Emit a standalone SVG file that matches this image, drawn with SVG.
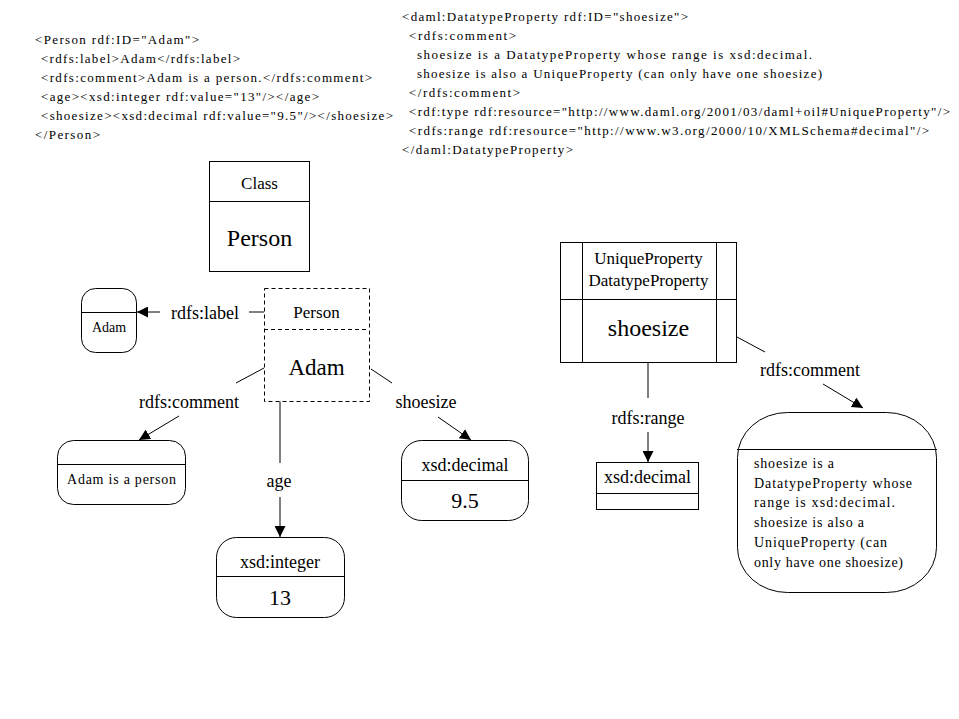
<svg xmlns="http://www.w3.org/2000/svg" width="959" height="719" viewBox="0 0 959 719">
<style>
text{font-family:"Liberation Serif",Tinos,"Times New Roman",Times,"Noto Serif","DejaVu Serif",FreeSerif,serif;fill:#000}
.code{font-size:13px}
.lbl{font-size:18px;text-anchor:middle}
.c{text-anchor:middle}
.box{fill:#fff;stroke:#000;stroke-width:1}
.ln{stroke:#000;stroke-width:1;fill:none}
.dash{stroke-dasharray:4,3}
</style>
<defs>
<marker id="ah" markerUnits="userSpaceOnUse" markerWidth="11" markerHeight="11" viewBox="0 0 11 11" refX="11" refY="5.5" orient="auto">
<path d="M0,0 L11,5.5 L0,11 z" fill="#000"/>
</marker>
</defs>
<rect width="959" height="719" fill="#fff"/>

<g id="code-person">
<text class="code" x="35" y="44" textLength="164">&lt;Person rdf:ID="Adam"&gt;</text>
<text class="code" x="41" y="63" textLength="199">&lt;rdfs:label&gt;Adam&lt;/rdfs:label&gt;</text>
<text class="code" x="41" y="82" textLength="331">&lt;rdfs:comment&gt;Adam is a person.&lt;/rdfs:comment&gt;</text>
<text class="code" x="41" y="101" textLength="278">&lt;age&gt;&lt;xsd:integer rdf:value="13"/&gt;&lt;/age&gt;</text>
<text class="code" x="41" y="120" textLength="352">&lt;shoesize&gt;&lt;xsd:decimal rdf:value="9.5"/&gt;&lt;/shoesize&gt;</text>
<text class="code" x="35" y="139" textLength="65">&lt;/Person&gt;</text>
</g>

<g id="code-shoesize">
<text class="code" x="402" y="21" textLength="286">&lt;daml:DatatypeProperty rdf:ID="shoesize"&gt;</text>
<text class="code" x="409" y="40" textLength="107">&lt;rdfs:comment&gt;</text>
<text class="code" x="417" y="59" textLength="395">shoesize is a DatatypeProperty whose range is xsd:decimal.</text>
<text class="code" x="417" y="78" textLength="405">shoesize is also a UniqueProperty (can only have one shoesize)</text>
<text class="code" x="409" y="97" textLength="111">&lt;/rdfs:comment&gt;</text>
<text class="code" x="409" y="116" textLength="541">&lt;rdf:type rdf:resource="http://www.daml.org/2001/03/daml+oil#UniqueProperty"/&gt;</text>
<text class="code" x="409" y="135" textLength="520">&lt;rdfs:range rdf:resource="http://www.w3.org/2000/10/XMLSchema#decimal"/&gt;</text>
<text class="code" x="402" y="154" textLength="171">&lt;/daml:DatatypeProperty&gt;</text>
</g>

<g id="connectors">
<line class="ln" x1="249" y1="312" x2="264" y2="312"/>
<line class="ln" x1="160" y1="312" x2="137" y2="312" marker-end="url(#ah)"/>
<line class="ln" x1="264" y1="368" x2="236" y2="383"/>
<line class="ln" x1="179" y1="416" x2="139" y2="440" marker-end="url(#ah)"/>
<line class="ln" x1="280" y1="401" x2="280" y2="463"/>
<line class="ln" x1="280" y1="497" x2="280" y2="537" marker-end="url(#ah)"/>
<line class="ln" x1="371" y1="369" x2="392" y2="383"/>
<line class="ln" x1="438" y1="417" x2="471" y2="440" marker-end="url(#ah)"/>
<line class="ln" x1="648" y1="363" x2="648" y2="398"/>
<line class="ln" x1="648" y1="432" x2="648" y2="462" marker-end="url(#ah)"/>
<line class="ln" x1="737" y1="337" x2="765" y2="352"/>
<line class="ln" x1="823" y1="384" x2="863" y2="408" marker-end="url(#ah)"/>
<text class="lbl" x="205" y="319">rdfs:label</text>
<text class="lbl" x="189" y="408">rdfs:comment</text>
<text class="lbl" x="279" y="487">age</text>
<text class="lbl" x="426" y="408">shoesize</text>
<text class="lbl" x="648" y="424">rdfs:range</text>
<text class="lbl" x="810" y="376">rdfs:comment</text>
</g>

<g id="class-person">
<rect class="box" x="209.5" y="161.5" width="100" height="110"/>
<line class="ln" x1="209" y1="201.5" x2="309" y2="201.5"/>
<text class="c" x="259.5" y="189" font-size="17">Class</text>
<text class="c" x="259.5" y="246" font-size="24">Person</text>
</g>

<g id="adam-instance">
<rect class="box dash" x="264.5" y="288.5" width="105" height="113"/>
<line class="ln dash" x1="264" y1="329.5" x2="369" y2="329.5"/>
<text class="c" x="316.5" y="318" font-size="17">Person</text>
<text class="c" x="316.5" y="375" font-size="23">Adam</text>
</g>

<g id="adam-label">
<rect class="box" x="81.5" y="288.5" width="55" height="64" rx="14"/>
<line class="ln" x1="81" y1="312.5" x2="137" y2="312.5"/>
<text class="c" x="109" y="332" font-size="14">Adam</text>
</g>

<g id="adam-comment">
<rect class="box" x="57.5" y="440.5" width="128" height="64" rx="16"/>
<line class="ln" x1="57" y1="464.5" x2="186" y2="464.5"/>
<text class="c" x="121.5" y="484" font-size="14" textLength="109">Adam is a person</text>
</g>

<g id="xsd-integer">
<rect class="box" x="216.5" y="537.5" width="128" height="80" rx="20"/>
<line class="ln" x1="216" y1="576.5" x2="345" y2="576.5"/>
<text class="c" x="280" y="568" font-size="18">xsd:integer</text>
<text class="c" x="280" y="605" font-size="22">13</text>
</g>

<g id="xsd-decimal-value">
<rect class="box" x="401.5" y="440.5" width="127" height="80" rx="20"/>
<line class="ln" x1="401" y1="480.5" x2="529" y2="480.5"/>
<text class="c" x="465" y="471" font-size="18">xsd:decimal</text>
<text class="c" x="465" y="508" font-size="22">9.5</text>
</g>

<g id="shoesize-property">
<rect class="box" x="560.5" y="242.5" width="176" height="120"/>
<line class="ln" x1="582.5" y1="242" x2="582.5" y2="363"/>
<line class="ln" x1="716.5" y1="242" x2="716.5" y2="363"/>
<line class="ln" x1="560" y1="299.5" x2="737" y2="299.5"/>
<text class="c" x="648.5" y="264" font-size="17">UniqueProperty</text>
<text class="c" x="648.5" y="286" font-size="17">DatatypeProperty</text>
<text class="c" x="648.5" y="336" font-size="24">shoesize</text>
</g>

<g id="xsd-decimal-range">
<rect class="box" x="596.5" y="462.5" width="102" height="47"/>
<line class="ln" x1="596" y1="493.5" x2="699" y2="493.5"/>
<text class="c" x="647.5" y="483" font-size="18">xsd:decimal</text>
</g>

<g id="shoesize-comment">
<rect class="box" x="737.5" y="412.5" width="199" height="180" rx="50" ry="45"/>
<line class="ln" x1="737" y1="449.5" x2="937" y2="449.5"/>
<text x="754" y="468" font-size="14" textLength="80">shoesize is a</text>
<text x="754" y="488" font-size="14" textLength="158">DatatypeProperty whose</text>
<text x="754" y="507" font-size="14" textLength="141">range is xsd:decimal.</text>
<text x="754" y="527" font-size="14" textLength="110">shoesize is also a</text>
<text x="754" y="547" font-size="14" textLength="133">UniqueProperty (can</text>
<text x="754" y="567" font-size="14" textLength="149">only have one shoesize)</text>
</g>
</svg>
